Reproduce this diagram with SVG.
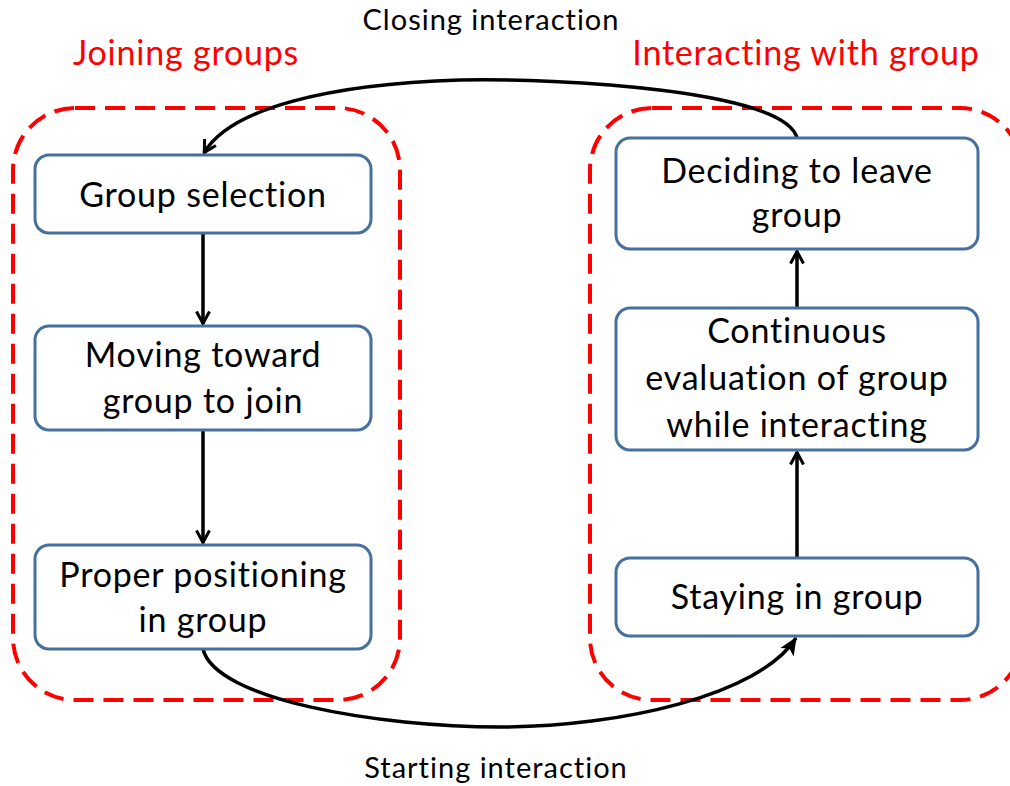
<svg xmlns="http://www.w3.org/2000/svg" width="1010" height="786" viewBox="0 0 1010 786">
  <style>
    text { font-family: Lato, "Liberation Sans", sans-serif; font-variant-ligatures: none; text-anchor: middle; }
    .bg { fill: #ffffff; }
    .stage { fill: none; stroke: #ff0000; stroke-width: 4; stroke-dasharray: 20 10; }
    .stage-title { font-size: 34px; letter-spacing: 0.8px; fill: #ff0000; }
    .box { fill: #ffffff; stroke: #46709e; stroke-width: 3; }
    .label { font-size: 34px; letter-spacing: 0.8px; fill: #000000; }
    .edge-label { font-size: 29px; letter-spacing: 1px; fill: #000000; }
    .edge { fill: none; stroke: #000000; stroke-width: 3.5; }
  </style>
  <defs>
    <marker id="open-head" viewBox="0 0 16 16" refX="14.5" refY="8" markerWidth="16" markerHeight="16" markerUnits="userSpaceOnUse" orient="auto">
      <path d="M2,1.5 L14,8 L2,14.5" fill="none" stroke="#000000" stroke-width="3"/>
    </marker>
    <marker id="solid-head" viewBox="0 0 16 16" refX="15" refY="8" markerWidth="18" markerHeight="18" markerUnits="userSpaceOnUse" orient="auto">
      <path d="M0,1 L16,8 L0,15 L4,8 Z" fill="#000000"/>
    </marker>
  </defs>

  <rect class="bg" x="0" y="0" width="1010" height="786"/>

  <!-- stage outlines -->
  <g id="stage-joining">
    <rect class="stage" x="13" y="108" width="387" height="592" rx="62" ry="62"/>
    <text class="stage-title" x="186" y="65">Joining groups</text>
  </g>
  <g id="stage-interacting">
    <rect class="stage" x="590" y="108" width="432" height="592" rx="62" ry="62"/>
    <text class="stage-title" x="806" y="65">Interacting with group</text>
  </g>

  <!-- connectors -->
  <g id="connectors">
    <line class="edge" x1="203" y1="233" x2="203" y2="324" marker-end="url(#open-head)"/>
    <line class="edge" x1="203" y1="430" x2="203" y2="543" marker-end="url(#open-head)"/>
    <line class="edge" x1="797" y1="558" x2="797" y2="452" marker-end="url(#open-head)"/>
    <line class="edge" x1="797" y1="308" x2="797" y2="251" marker-end="url(#open-head)"/>
    <path class="edge" d="M797,138 C785,90 560,78 460,80 C330,84 230,108 204,153" marker-end="url(#open-head)"/>
    <path class="edge" d="M203,649 C215,700 380,727 500,727 C620,727 760,695 796,638" marker-end="url(#solid-head)"/>
    <text class="edge-label" x="491" y="30">Closing interaction</text>
    <text class="edge-label" x="496" y="778">Starting interaction</text>
  </g>

  <!-- process nodes -->
  <g id="node-group-selection">
    <rect class="box" x="35" y="155" width="336" height="78" rx="14" ry="14"/>
    <text class="label" x="203" y="207">Group selection</text>
  </g>
  <g id="node-moving-toward">
    <rect class="box" x="35" y="326" width="336" height="104" rx="14" ry="14"/>
    <text class="label" x="203" y="367">Moving toward</text>
    <text class="label" x="203" y="413">group to join</text>
  </g>
  <g id="node-proper-positioning">
    <rect class="box" x="35" y="545" width="336" height="104" rx="14" ry="14"/>
    <text class="label" x="203" y="587">Proper positioning</text>
    <text class="label" x="203" y="632">in group</text>
  </g>
  <g id="node-deciding-to-leave">
    <rect class="box" x="616" y="138" width="362" height="111" rx="14" ry="14"/>
    <text class="label" x="797" y="183">Deciding to leave</text>
    <text class="label" x="797" y="227">group</text>
  </g>
  <g id="node-continuous-evaluation">
    <rect class="box" x="616" y="308" width="362" height="142" rx="14" ry="14"/>
    <text class="label" x="797" y="343">Continuous</text>
    <text class="label" x="797" y="390">evaluation of group</text>
    <text class="label" x="797" y="437">while interacting</text>
  </g>
  <g id="node-staying-in-group">
    <rect class="box" x="616" y="558" width="362" height="78" rx="14" ry="14"/>
    <text class="label" x="797" y="609">Staying in group</text>
  </g>
</svg>
